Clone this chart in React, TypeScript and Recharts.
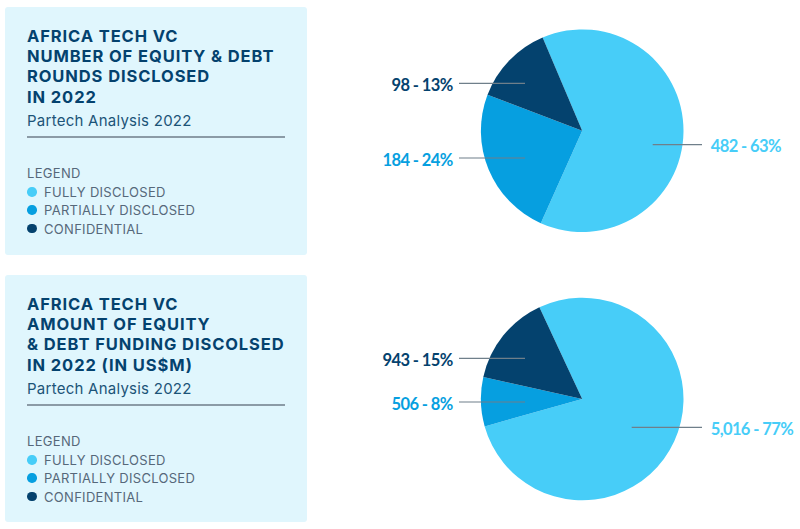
import React from 'react';
import { PieChart, Pie, Cell } from 'recharts';

const CATEGORIES = ['FULLY DISCLOSED', 'PARTIALLY DISCLOSED', 'CONFIDENTIAL'];
const COLORS = ['#47cdf8', '#069fe0', '#04426e'];

const ROUNDS_VALUES = [482, 184, 98];
const ROUNDS_PERCENTS = [63, 24, 13];
const FUNDING_VALUES = [5016, 506, 943];
const FUNDING_PERCENTS = [77, 8, 15];

const ROUNDS_TITLE = ['AFRICA TECH VC', 'NUMBER OF EQUITY & DEBT', 'ROUNDS DISCLOSED', 'IN 2022'];
const FUNDING_TITLE = ['AFRICA TECH VC', 'AMOUNT OF EQUITY', '& DEBT FUNDING DISCOLSED', 'IN 2022 (IN US$M)'];
const SUBTITLE = 'Partech Analysis 2022';

const FONT = 'Inter, sans-serif';
const CHART_W = 430;
const CHART_H = 240;
const CENTER_X = 212.2;

// leader line for each slice, in chart pixels: [x1, x2, y]
const ROUNDS_LEADERS = [[282.7, 332, 124.7], [89, 155, 138], [89, 155, 63.3]];
const FUNDING_LEADERS = [[261.7, 332, 137.3], [89, 155, 112], [89, 155, 68.3]];

const panelText: React.CSSProperties = { position: 'absolute', left: 22, whiteSpace: 'nowrap' };

const InfoPanel = ({ top, height, title }: { top: number; height: number; title: string[] }) => (
  <div
    style={{
      position: 'absolute',
      left: 5,
      top,
      width: 302,
      height,
      background: '#e0f6fd',
      borderRadius: 3,
      fontFamily: FONT,
    }}
  >
    <div
      style={{
        ...panelText,
        top: 19,
        color: '#04426e',
        fontSize: 16.5,
        fontWeight: 700,
        letterSpacing: 0.9,
        lineHeight: '20.2px',
      }}
    >
      {title.map((line) => (
        <div key={line}>{line}</div>
      ))}
    </div>
    <div style={{ ...panelText, top: 104, color: '#1c5478', fontSize: 15, letterSpacing: 0.25, lineHeight: '20px' }}>
      {SUBTITLE}
    </div>
    <div style={{ position: 'absolute', left: 22, top: 129, width: 258, height: 1.5, background: '#8b9ba6' }} />
    <div style={{ ...panelText, top: 157, color: '#56687a', fontSize: 13, letterSpacing: 0.3, lineHeight: '18px' }}>
      LEGEND
    </div>
    {CATEGORIES.map((name, i) => (
      <div key={name}>
        <div
          style={{
            position: 'absolute',
            left: 22,
            top: 180 + i * 18.4,
            width: 9.5,
            height: 9.5,
            borderRadius: '50%',
            background: COLORS[i],
          }}
        />
        <div
          style={{
            ...panelText,
            left: 39,
            top: 176 + i * 18.4,
            color: '#56687a',
            fontSize: 13,
            letterSpacing: 0.3,
            lineHeight: '18px',
          }}
        >
          {name}
        </div>
      </div>
    ))}
  </div>
);

const DisclosurePie = ({
  top,
  centerY,
  startAngle,
  values,
  percents,
  leaders,
}: {
  top: number;
  centerY: number;
  startAngle: number;
  values: number[];
  percents: number[];
  leaders: number[][];
}) => {
  const data = CATEGORIES.map((name, i) => ({ name, value: values[i] }));

  const renderLabel = ({ index }: { index: number }) => {
    const [x1, x2, y] = leaders[index];
    const onRight = index === 0;
    return (
      <g key={index}>
        <line x1={x1} x2={x2} y1={y} y2={y} stroke="#6f7f8a" strokeWidth={1.2} />
        <text
          x={onRight ? x2 + 8.7 : x1 - 6.3}
          y={y + 7.5}
          textAnchor={onRight ? 'start' : 'end'}
          fill={COLORS[index]}
          fontFamily="Lato, sans-serif"
          fontSize={16.5}
          fontWeight={700}
          letterSpacing={-0.6}
        >
          {`${values[index].toLocaleString('en-US')} - ${percents[index]}%`}
        </text>
      </g>
    );
  };

  return (
    <div style={{ position: 'absolute', left: 370, top }}>
      <PieChart width={CHART_W} height={CHART_H} margin={{ top: 0, right: 0, bottom: 0, left: 0 }}>
        <Pie
          data={data}
          dataKey="value"
          cx={CENTER_X}
          cy={centerY}
          outerRadius={101.3}
          startAngle={startAngle}
          endAngle={startAngle - 360}
          stroke="none"
          label={renderLabel}
          labelLine={false}
          isAnimationActive={false}
        >
          {data.map((entry, index) => (
            <Cell key={`cell-${entry.name}`} fill={COLORS[index]} />
          ))}
        </Pie>
      </PieChart>
    </div>
  );
};

export default function App() {
  return (
    <div style={{ position: 'absolute', left: 0, top: 0, width: 800, height: 529, background: '#fff', overflow: 'hidden' }}>
      <InfoPanel top={7} height={248} title={ROUNDS_TITLE} />
      <InfoPanel top={275} height={247} title={FUNDING_TITLE} />
      <DisclosurePie
        top={20}
        centerY={110.7}
        startAngle={113}
        values={ROUNDS_VALUES}
        percents={ROUNDS_PERCENTS}
        leaders={ROUNDS_LEADERS}
      />
      <DisclosurePie
        top={290}
        centerY={109}
        startAngle={115}
        values={FUNDING_VALUES}
        percents={FUNDING_PERCENTS}
        leaders={FUNDING_LEADERS}
      />
    </div>
  );
}
